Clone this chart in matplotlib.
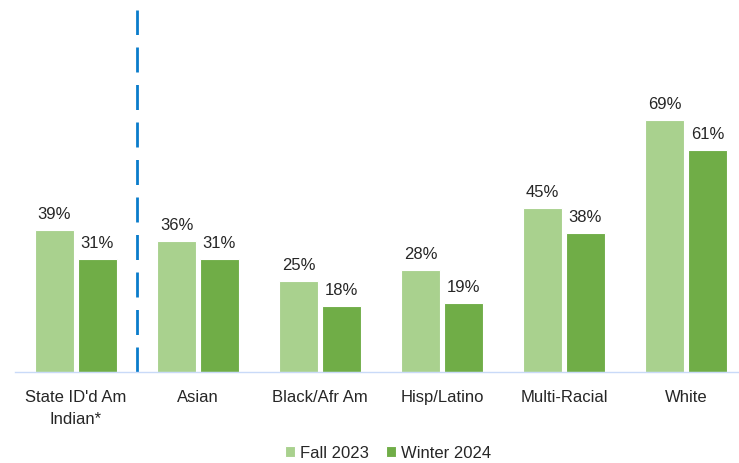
import numpy as np
import matplotlib.pyplot as plt
from matplotlib import font_manager

names = {f.name for f in font_manager.fontManager.ttflist}
fam = ['Liberation Sans Narrow', 'Liberation Sans'] if 'Liberation Sans Narrow' in names else ['Liberation Sans']
plt.rcParams['font.family'] = fam

categories = ["State ID'd Am\nIndian*", "Asian", "Black/Afr Am", "Hisp/Latino", "Multi-Racial", "White"]
fall_2023 = [39, 36, 25, 28, 45, 69]
winter_2024 = [31, 31, 18, 19, 38, 61]
series_names = ["Fall 2023", "Winter 2024"]

fig = plt.figure(figsize=(7.39, 4.63), dpi=100)
ax = fig.add_axes([15 / 739, 1 - 372 / 463, 732 / 739, 362 / 463])

x = np.arange(len(categories))
w = 0.32
off = 0.176
b1 = ax.bar(x - off, fall_2023, w, color='#A9D18E', edgecolor='white', linewidth=0.8, label=series_names[0])
b2 = ax.bar(x + off, winter_2024, w, color='#70AD47', edgecolor='white', linewidth=0.8, label=series_names[1])

for bars in (b1, b2):
    for r in bars:
        ax.text(r.get_x() + r.get_width() / 2, r.get_height() + 2.2, f"{r.get_height():.0f}%",
                ha='center', va='bottom', fontsize=12, color='#262626')

ax.axvline(0.5, ymin=0, ymax=1, color='#0A7CCB', linewidth=2, dashes=(9, 4.5))

ax.set_xlim(-0.5, 5.5)
ax.set_ylim(0, 99.3)
ax.set_xticks(x)
ax.set_xticklabels(categories, fontsize=12, color='#262626', linespacing=1.55)
ax.tick_params(axis='x', length=0, pad=13)
ax.set_yticks([])
for s in ['top', 'right', 'left']:
    ax.spines[s].set_visible(False)
ax.spines['bottom'].set_color('#C9DAF8')
ax.spines['bottom'].set_linewidth(1)

fig.legend(handles=[b1, b2], loc='center', bbox_to_anchor=(0.525, 1 - 453 / 463), ncol=2,
           frameon=False, fontsize=12, handlelength=0.6, handleheight=0.6, handletextpad=0.3,
           columnspacing=1.0, labelcolor='#262626')

fig.savefig('out.png', dpi=100)
